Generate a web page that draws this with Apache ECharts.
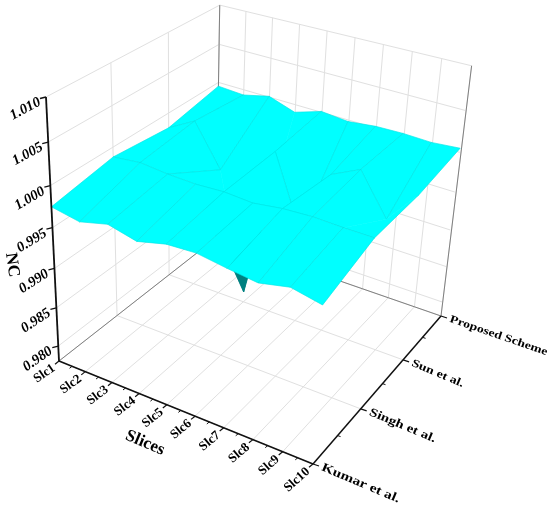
<!DOCTYPE html><html><head><meta charset="utf-8">
<style>html,body{margin:0;padding:0;background:#fff}#c{width:550px;height:508px}</style>
<script src="https://cdn.jsdelivr.net/npm/echarts@6/dist/echarts.min.js"></script></head><body><div id="c"></div>
<script>
const slices=['Slc1','Slc2','Slc3','Slc4','Slc5','Slc6','Slc7','Slc8','Slc9','Slc10'];
const schemes=['Kumar et al.','Singh et al.','Sun et al.','Proposed Scheme'];
const ncTicks=[0.980,0.985,0.990,0.995,1.000,1.005,1.010];
const kumar=[0.9975,0.9969,0.9978,0.9970,0.9979,0.9981,0.9976,0.9972,0.9980,0.9973];
const singh=[0.9988,0.9992,0.9989,0.9988,0.9990,0.9988,0.9993,0.9995,0.9994,0.9994];
const sun=[0.9981,1.0000,0.9948,0.9794,0.9993,0.9904,0.9986,1.0003,0.9953,0.9995];
const proposed=[0.9995,0.9993,1.0001,0.9990,1.0001,0.9998,1.0002,1.0003,1.0002,1.0005];
const rows=[kumar,singh,sun,proposed];

// view of the 3D box: floor corners and top of the NC axis, in chart units
const A=[59,361],B=[313,464],C=[441,316],D=[216,238],Ap=[46,97],K=-0.1;
const zMin=0.978,zMax=1.010,LEVEL=0.987,DEEP=0.985;
const dx1=B[0]-C[0],dx2=D[0]-C[0],sx=A[0]-B[0]+C[0]-D[0],dy1=B[1]-C[1],dy2=D[1]-C[1],sy=A[1]-B[1]+C[1]-D[1];
const den=dx1*dy2-dx2*dy1,g=(sx*dy2-dx2*sy)/den,h=(dx1*sy-sx*dy1)/den;
const a=B[0]-A[0]+g*B[0],b=D[0]-A[0]+h*D[0],d=B[1]-A[1]+g*B[1],e=D[1]-A[1]+h*D[1];
const cx=Ap[0]*(1+K)-A[0],cy=Ap[1]*(1+K)-A[1];
function proj(i,j,z){ // i slice position, j scheme position, z NC value
  const u=i/(slices.length-1),v=j/(schemes.length-1),w=(z-zMin)/(zMax-zMin);
  const W=g*u+h*v+1+K*w,t=u*v*w*w*w*w;
  return [(a*u+b*v+A[0]+cx*w)/W+4*t,(d*u+e*v+A[1]+cy*w)/W-7*t];
}
const F="'Liberation Serif'";
const GRID='#e0e0e0',EDGE='#808080',INK='#111';
function seg(api,p,q,stroke,lw){const s=api.coord(p),t=api.coord(q);
  return {type:'line',shape:{x1:s[0],y1:s[1],x2:t[0],y2:t[1]},style:{stroke,lineWidth:lw}};}
function txt(api,p,text,font,rot,align,extra){const s=api.coord(p);
  return Object.assign({type:'text',x:s[0],y:s[1],rotation:rot*Math.PI/180,
    style:{text,font,fill:'#000',align:align||'center',verticalAlign:'middle'}},extra||{});}
const nI=slices.length-1,nJ=schemes.length-1;

function renderWalls(params,api){
  const c=[];
  ncTicks.forEach(z=>{
    c.push(seg(api,proj(0,0,z),proj(0,nJ,z),GRID,1));
    c.push(seg(api,proj(0,nJ,z),proj(nI,nJ,z),GRID,1));
  });
  slices.forEach((s,i)=>{
    c.push(seg(api,proj(i,0,zMin),proj(i,nJ,zMin),GRID,1));
    c.push(seg(api,proj(i,nJ,zMin),proj(i,nJ,zMax),GRID,1));
  });
  schemes.forEach((s,j)=>{
    c.push(seg(api,proj(0,j,zMin),proj(nI,j,zMin),GRID,1));
    c.push(seg(api,proj(0,j,zMin),proj(0,j,zMax),GRID,1));
  });
  c.push(seg(api,proj(0,0,zMin),proj(0,nJ,zMin),EDGE,1));
  c.push(seg(api,proj(0,nJ,zMin),proj(nI,nJ,zMin),EDGE,1));
  c.push(seg(api,proj(0,nJ,zMin),proj(0,nJ,zMax),EDGE,1));
  c.push(seg(api,proj(nI,nJ,zMin),proj(nI,nJ,zMax),EDGE,1));
  return {type:'group',children:c};
}

// cells in back-to-front order
const cells=[];
for(let j=nJ-1;j>=0;j--)for(let i=0;i<nI;i++)cells.push([i,j]);
// mesh edges the reference does not show (folded under the pit at Slc9 / Sun et al.)
const hiddenEdges=new Set(['8,1|8,2','8,2|9,2']);
function clip(poly,keepAbove){
  const out=[];
  poly.forEach((p,n)=>{
    const q=poly[(n+1)%poly.length];
    const pin=keepAbove?p[2]>=LEVEL:p[2]<LEVEL,qin=keepAbove?q[2]>=LEVEL:q[2]<LEVEL;
    if(pin)out.push(p);
    if(pin!==qin){const t=(LEVEL-p[2])/(q[2]-p[2]);out.push([p[0]+t*(q[0]-p[0]),p[1]+t*(q[1]-p[1]),LEVEL]);}
  });
  return out;
}
function renderCell(params,api){
  const i=api.value(0),j=api.value(1);
  const poly=[[i,j],[i+1,j],[i+1,j+1],[i,j+1]].map(v=>[v[0],v[1],rows[v[1]][v[0]]]);
  const c=[];
  const toPts=pl=>pl.map(p=>api.coord(proj(p[0],p[1],p[2])));
  const up=clip(poly,true),low=clip(poly,false);
  if(low.length>2)c.push({type:'polygon',shape:{points:toPts(low)},style:{fill:'#008080',stroke:'#008080',lineWidth:0.5}});
  if(up.length>2)c.push({type:'polygon',shape:{points:toPts(up)},style:{fill:'#00ffff',stroke:'#00ffff',lineWidth:0.6}});
  poly.forEach((p,n)=>{
    const q=poly[(n+1)%4];
    if(p[2]<DEEP||q[2]<DEEP)return;
    const k1=p[0]+','+p[1],k2=q[0]+','+q[1];
    if(hiddenEdges.has(k1+'|'+k2)||hiddenEdges.has(k2+'|'+k1))return;
    c.push(seg(api,proj(p[0],p[1],p[2]),proj(q[0],q[1],q[2]),'rgba(0,105,105,0.11)',1));
  });
  return {type:'group',children:c};
}

function off(p,dx,dy){return [p[0]+dx,p[1]+dy];}
function renderAxes(params,api){
  const c=[];
  c.push(seg(api,proj(0,0,zMin),proj(0,0,zMax),INK,1.8));
  c.push(seg(api,proj(0,0,zMin),proj(nI,0,zMin),INK,1.5));
  c.push(seg(api,proj(nI,0,zMin),proj(nI,nJ,zMin),INK,1.5));
  // NC ticks and labels
  ncTicks.forEach((z,n)=>{
    const p=proj(0,0,z);
    c.push(seg(api,p,off(p,-6,1.5),INK,1.3));
    const rot=35-7*n/(ncTicks.length-1);
    c.push(txt(api,off(p,-20.5,13+(n>4?-1:0)),z.toFixed(3),'italic bold 14.5px '+F,rot));
  });
  // slice ticks and labels
  slices.forEach((s,i)=>{
    const p=proj(i,0,zMin);
    c.push(seg(api,p,off(p,-4,3.2),INK,1.2));
    if(i<nI){const m=proj(i+0.5,0,zMin);c.push(seg(api,m,off(m,-2.5,2),INK,1));}
    c.push(txt(api,off(p,-5,6),s,'bold 13px '+F,35+7*i/nI,'right'));
  });
  // scheme ticks and labels
  const sizes=[15.5,15,14,13.7];
  schemes.forEach((s,j)=>{
    const p=proj(nI,j,zMin);
    c.push(seg(api,p,off(p,6,2),INK,1.2));
    if(j<nJ){const m=proj(nI,j+0.5,zMin);c.push(seg(api,m,off(m,3,1),INK,1));}
    c.push(txt(api,off(p,9,3),s,'bold '+sizes[j]+'px '+F,j===nJ?-19:-23,'left',{scaleY:0.8}));
  });
  c.push(txt(api,[145,443],'Slices','bold 17px '+F,-23));
  c.push(txt(api,[12,265],'NC','bold 17px '+F,-82));
  return {type:'group',children:c};
}

const chart=echarts.init(document.getElementById('c'),null,{renderer:'canvas'});
chart.setOption({
  animation:false,backgroundColor:'#fff',
  grid:{left:0,right:0,top:0,bottom:0},
  xAxis:{type:'value',min:0,max:550,show:false},
  yAxis:{type:'value',min:0,max:508,inverse:true,show:false},
  series:[
    {type:'custom',silent:true,clip:false,z:1,data:[[0,0]],renderItem:renderWalls},
    {type:'custom',silent:true,clip:false,z:2,data:cells,renderItem:renderCell},
    {type:'custom',silent:true,clip:false,z:3,data:[[0,0]],renderItem:renderAxes}
  ]
});
</script></body></html>
